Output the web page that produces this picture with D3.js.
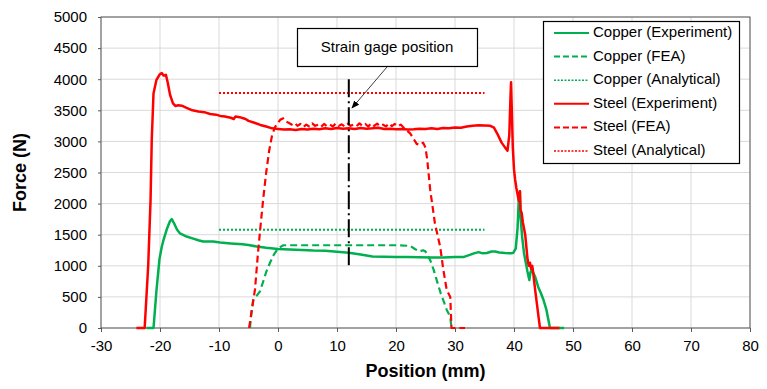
<!DOCTYPE html>
<meta charset="utf-8">
<script src="https://d3js.org/d3.v7.min.js"></script>
<style>
    body { margin: 0; background: #fff; }
    text { font-family: "Liberation Sans", Arial, sans-serif; fill: #000; }
    .tick text { font-size: 15px; }
    .axis-title { font-size: 18px; font-weight: bold; }
    .grid line { stroke: #d9d9d9; stroke-width: 1; }
</style>
<div id="chart"></div>
<script>
    // ---- data: [position (mm), force (N)] ----
    const copperExperiment = [[-22.3,0],[-21.1,0],[-20.6,600],[-20.1,1100],[-19.7,1307],[-19.4,1415],[-18.8,1600],
        [-18.3,1720],[-18.0,1750],[-17.6,1680],[-17.1,1580],[-16.6,1520],[-15.5,1470],[-14.5,1440],[-13.5,1410],
        [-12.7,1390],[-11,1390],[-9.8,1375],[-8,1360],[-6,1345],[-5,1335],[-3.6,1310],[-2,1290],[0,1270],[2,1262],
        [4,1255],[6,1245],[8,1240],[10,1227],[12,1210],[14,1180],[16,1150],[18,1145],[20,1140],[22,1140],[24,1137],
        [26,1135],[28,1135],[30,1140],[31.4,1140],[32.5,1175],[33.2,1200],[34.0,1220],[34.7,1200],[35.4,1205],
        [36.2,1230],[36.8,1230],[37.5,1215],[38.5,1205],[39.5,1200],[39.9,1210],[40.3,1280],[40.6,1600],[40.8,2050],
        [41.0,2200],[41.1,1790],[41.4,1450],[41.7,1200],[42.0,1050],[42.3,900],[42.6,770],[42.8,900],[43.0,930],
        [43.3,880],[43.6,820],[44.1,660],[44.6,550],[45.0,450],[45.5,290],[46.1,0],[48.5,0]];

    const copperFEA = [[-4.75,0],[-4.5,250],[-4.2,450],[-3.6,520],[-3.05,590],[-2.5,750],[-2.0,900],[-1.4,1040],
        [-0.7,1180],[0,1280],[0.9,1330],[5,1330],[10,1330],[15,1330],[20,1330],[22.4,1320],[23.2,1270],[24.0,1230],
        [24.6,1250],[25.0,1230],[25.8,1090],[26.4,930],[26.9,770],[27.6,550],[28.2,400],[28.6,290],[29.2,180],[29.4,0]];

    const copperAnalytical = [[-10,1580],[35,1580]];

    const steelExperiment = [[-24,0],[-22.6,0],[-22.0,1000],[-21.6,2060],[-21.4,3020],[-21.1,3770],[-20.6,3990],
        [-20.1,4070],[-19.7,4100],[-19.4,4060],[-19.0,4070],[-18.7,3950],[-18.3,3750],[-17.8,3610],[-17.4,3570],
        [-16.9,3580],[-16.3,3575],[-15.5,3540],[-14.5,3500],[-13.5,3480],[-12.5,3470],[-11.5,3440],[-10.5,3430],
        [-9.8,3410],[-9.0,3400],[-8.0,3380],[-7.5,3360],[-7.2,3400],[-6.5,3390],[-5.5,3360],[-5.0,3330],[-4.0,3300],
        [-3.0,3265],[-2.0,3240],[-1.0,3210],[0,3200],[1,3190],[2,3195],[3,3185],[4,3200],[5,3190],[6,3205],[7,3195],
        [8,3210],[9,3200],[10,3215],[11,3205],[12,3210],[13,3200],[14,3215],[15,3205],[16,3210],[17,3220],[18,3200],
        [19,3205],[20,3195],[21,3200],[22,3190],[23,3195],[24,3205],[25,3200],[26,3210],[27,3200],[28,3215],
        [29,3210],[30,3225],[31,3220],[32,3240],[33,3250],[34,3260],[35,3255],[36,3250],[36.6,3220],[37.3,3100],
        [37.9,2980],[38.5,2900],[38.9,2850],[39.2,3100],[39.4,3700],[39.5,3950],[39.6,3600],[39.8,2900],[40.0,2550],
        [40.2,2380],[40.4,2250],[40.6,2150],[40.8,2050],[41.0,2200],[41.1,1900],[41.3,1850],[41.5,1700],[41.7,1600],
        [41.9,1500],[42.1,1300],[42.3,1100],[42.5,1000],[42.7,1050],[42.9,950],[43.1,1000],[43.3,850],[43.6,600],
        [44.0,300],[44.4,0],[47.7,0]];

    const steelFEA = [[-4.9,0],[-4.5,250],[-3.9,620],[-3.4,1200],[-2.9,1700],[-2.5,2080],[-2.0,2500],[-1.5,2850],
        [-1.0,3100],[-0.5,3230],[0,3300],[0.4,3350],[0.9,3370],[1.3,3320],[1.8,3300],[2.3,3270],[2.8,3300],[3.3,3250],
        [3.8,3280],[4.3,3230],[4.8,3270],[5.3,3240],[5.8,3290],[6.3,3250],[6.8,3270],[7.3,3235],[7.8,3280],[8.3,3245],
        [8.8,3270],[9.3,3240],[9.8,3290],[10.3,3250],[10.8,3275],[11.3,3240],[11.8,3285],[12.3,3250],[12.8,3270],
        [13.3,3245],[13.8,3290],[14.3,3250],[14.8,3280],[15.3,3240],[15.8,3290],[16.3,3250],[16.8,3285],[17.3,3245],
        [17.8,3270],[18.3,3240],[18.8,3290],[19.3,3245],[19.8,3280],[20.3,3240],[20.8,3270],[21.2,3230],[21.8,3180],
        [22.4,3130],[23.0,3040],[23.5,2960],[24.0,2940],[24.6,2980],[25.0,2900],[25.3,2700],[25.8,2220],[26.6,1680],
        [27.5,1300],[28.0,950],[28.6,610],[29.2,500],[29.4,0],[31.7,0]];

    const steelAnalytical = [[-10,3780],[35,3780]];

    const gageX = 12;
    const gageRange = [1000, 4000];

    const xTicks = [-30,-20,-10,0,10,20,30,40,50,60,70,80];
    const yTicks = [0,500,1000,1500,2000,2500,3000,3500,4000,4500,5000];

    const seriesNames = ["Copper (Experiment)","Copper (FEA)","Copper (Analytical)",
                         "Steel (Experiment)","Steel (FEA)","Steel (Analytical)"];

    // ---- layout ----
    const W = 767, H = 389;
    const margin = {top: 17, right: 17, bottom: 61, left: 101};
    const width = W - margin.left - margin.right,
          height = H - margin.top - margin.bottom;

    const green = "#00b050", red = "#ff0000";
    const styles = [
        {color: green, width: 2.5, dash: null},
        {color: green, width: 2.2, dash: "7,4"},
        {color: green, width: 2, dash: "2,2"},
        {color: red, width: 2.5, dash: null},
        {color: red, width: 2.2, dash: "7,4"},
        {color: red, width: 2, dash: "2,2"}
    ];
    const data = [copperExperiment, copperFEA, copperAnalytical, steelExperiment, steelFEA, steelAnalytical];

    const svg = d3.select("#chart").append("svg")
        .attr("width", W).attr("height", H);

    const g = svg.append("g")
        .attr("transform", `translate(${margin.left},${margin.top})`);

    const x = d3.scaleLinear().domain([-30, 80]).range([0, width]);
    const y = d3.scaleLinear().domain([0, 5000]).range([height, 0]);

    // grid
    g.append("g").attr("class", "grid")
        .selectAll("line.v").data(xTicks).join("line")
        .attr("x1", d => x(d)).attr("x2", d => x(d))
        .attr("y1", 0).attr("y2", height);
    g.append("g").attr("class", "grid")
        .selectAll("line.h").data(yTicks).join("line")
        .attr("x1", 0).attr("x2", width)
        .attr("y1", d => y(d)).attr("y2", d => y(d));

    // axes (plain integer labels with ASCII hyphen)
    const plain = d => String(d);
    const xAxis = g.append("g")
        .attr("transform", `translate(0,${height})`)
        .call(d3.axisBottom(x).tickValues(xTicks).tickFormat(plain).tickSize(4).tickSizeOuter(0).tickPadding(8));
    const yAxis = g.append("g")
        .call(d3.axisLeft(y).tickValues(yTicks).tickFormat(plain).tickSize(3).tickSizeOuter(0).tickPadding(11));
    [xAxis, yAxis].forEach(a => {
        a.select(".domain").remove();
        a.selectAll(".tick line").attr("stroke", "#595959");
        a.selectAll(".tick text").attr("font-family", null).attr("font-size", null);
    });

    // plot border
    g.append("rect")
        .attr("width", width).attr("height", height)
        .attr("fill", "none").attr("stroke", "#595959").attr("stroke-width", 1);

    // series
    const line = d3.line().x(d => x(d[0])).y(d => y(d[1]));
    g.selectAll("path.series").data(data).join("path")
        .attr("class", "series")
        .attr("d", line)
        .attr("fill", "none")
        .attr("stroke", (d, i) => styles[i].color)
        .attr("stroke-width", (d, i) => styles[i].width)
        .attr("stroke-dasharray", (d, i) => styles[i].dash)
        .attr("stroke-linejoin", "round");

    // strain gage line (dash-dot)
    g.append("line")
        .attr("x1", x(gageX)).attr("x2", x(gageX))
        .attr("y1", y(gageRange[1])).attr("y2", y(gageRange[0]))
        .attr("stroke", "#000").attr("stroke-width", 2)
        .attr("stroke-dasharray", "18,4,2,4");

    // annotation callout
    svg.append("defs").append("marker")
        .attr("id", "arrow").attr("viewBox", "0 0 10 10")
        .attr("refX", 9).attr("refY", 5)
        .attr("markerWidth", 8).attr("markerHeight", 8)
        .attr("orient", "auto")
        .append("path").attr("d", "M0,1 L10,5 L0,9 z").attr("fill", "#000");

    svg.append("line")
        .attr("x1", 387).attr("y1", 67)
        .attr("x2", 352).attr("y2", 108)
        .attr("stroke", "#404040").attr("stroke-width", 1)
        .attr("marker-end", "url(#arrow)");

    svg.append("rect")
        .attr("x", 297.5).attr("y", 28.5).attr("width", 180).attr("height", 38)
        .attr("fill", "#fff").attr("stroke", "#000").attr("stroke-width", 1.2);
    svg.append("text")
        .attr("x", 387).attr("y", 48)
        .attr("text-anchor", "middle").attr("dominant-baseline", "middle")
        .style("font-size", "15px")
        .text("Strain gage position");

    // legend
    const legend = svg.append("g").attr("transform", "translate(543,21)");
    legend.append("rect")
        .attr("x", 0.5).attr("y", 0.5).attr("width", 196).attr("height", 142)
        .attr("fill", "#fff").attr("stroke", "#000").attr("stroke-width", 1.2);
    const item = legend.selectAll("g.item").data(seriesNames).join("g")
        .attr("class", "item")
        .attr("transform", (d, i) => `translate(0,${12 + i * 23.6})`);
    item.append("line")
        .attr("x1", 11).attr("x2", 46)
        .attr("stroke", (d, i) => styles[i].color)
        .attr("stroke-width", (d, i) => i % 3 === 2 ? 1.5 : 2)
        .attr("stroke-dasharray", (d, i) => i % 3 === 1 ? "6,3" : (i % 3 === 2 ? "2,1.5" : null));
    item.append("text")
        .attr("x", 50)
        .attr("dominant-baseline", "middle")
        .style("font-size", "15px")
        .text(d => d);

    // axis titles
    svg.append("text").attr("class", "axis-title")
        .attr("x", margin.left + width / 2).attr("y", 377)
        .attr("text-anchor", "middle")
        .text("Position (mm)");
    svg.append("text").attr("class", "axis-title")
        .attr("transform", `translate(26,${margin.top + height / 2}) rotate(-90)`)
        .attr("text-anchor", "middle")
        .text("Force (N)");
</script>
